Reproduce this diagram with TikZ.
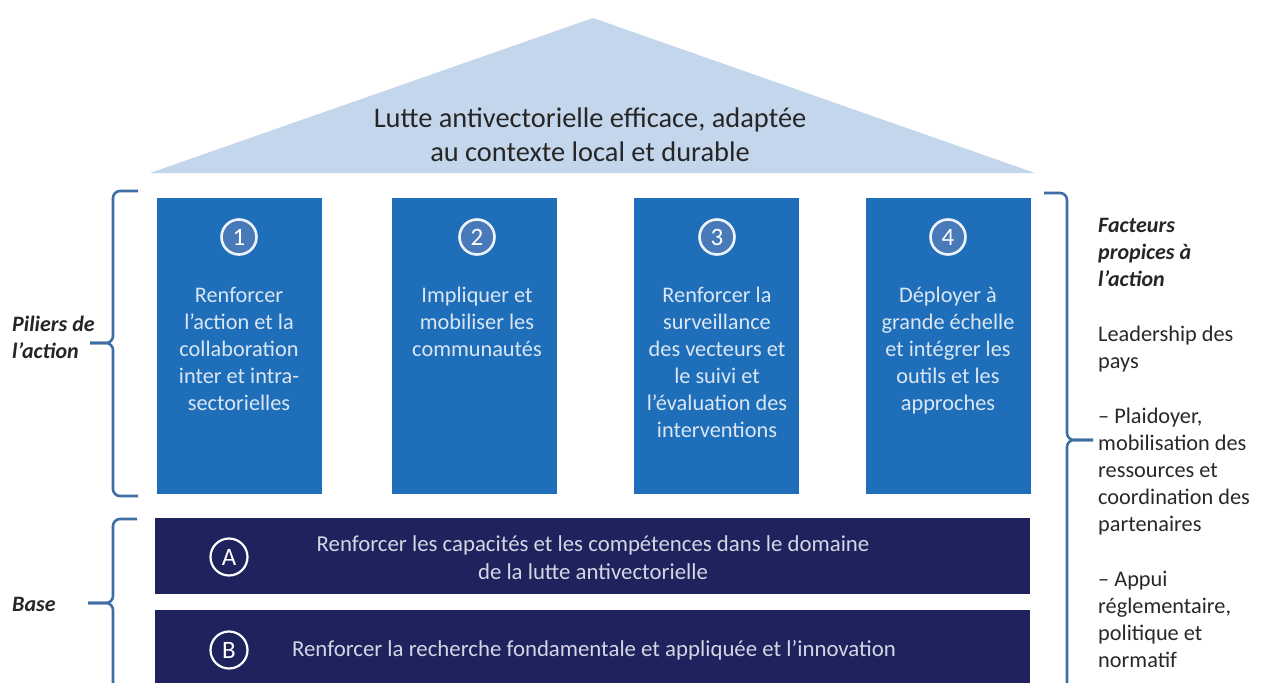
\documentclass[tikz,border=0pt]{standalone}
\usepackage{fontspec}
\setmainfont{Carlito}
\definecolor{roof}{RGB}{196,214,236}
\definecolor{pillar}{RGB}{31,110,186}
\definecolor{pcirc}{RGB}{72,122,186}
\definecolor{navy}{RGB}{30,35,94}
\definecolor{bracec}{RGB}{62,110,165}
\definecolor{ptext}{RGB}{218,230,242}
\definecolor{btext}{RGB}{212,214,228}
\definecolor{dtext}{RGB}{40,40,40}
\begin{document}
\begin{tikzpicture}[x=1pt,y=-1pt,
  pillarbox/.style={fill=pillar,draw=none,minimum width=165pt,minimum height=296pt,anchor=north west,inner sep=0},
  basebox/.style={fill=navy,draw=none,minimum width=875pt,anchor=north west,inner sep=0},
  pnum/.style={circle,draw=white!92!pillar,line width=2.6pt,fill=pcirc,minimum size=35pt,inner sep=0,text=white,font=\fontsize{25}{27}\selectfont},
  bnum/.style={circle,draw=white,line width=2.2pt,fill=navy,minimum size=37pt,inner sep=0,text=white,font=\fontsize{25}{27}\selectfont},
  ptxt/.style={anchor=north,inner sep=0,align=center,text=ptext,font=\fontsize{22.3}{27}\selectfont},
  btxt/.style={inner sep=0,align=center,text=btext,font=\fontsize{22.8}{28}\selectfont},
  rtxt/.style={anchor=north west,inner sep=0,align=left,text=dtext,font=\fontsize{22.3}{27}\selectfont},
  ltxt/.style={anchor=west,inner sep=0,align=left,text=black!85,font=\fontsize{22}{27}\selectfont\bfseries\itshape},
  bracepath/.style={draw=bracec,line width=2.6pt,rounded corners=7pt}
]
\useasboundingbox (0,0) rectangle (1270,683);
\fill[white] (0,0) rectangle (1270,683);

% roof
\coordinate (rl) at (150,173);
\coordinate (ra) at (593,18);
\coordinate (rr) at (1035,173);
\fill[roof] (rl) -- (ra) -- (rr) -- cycle;
\node[inner sep=0,align=center,text=black!85,font=\fontsize{28.4}{34}\selectfont] (roofT) at (590,135)
  {Lutte antivectorielle efficace, adaptée\\au contexte local et durable};

% pillars
\node[pillarbox] (p1) at (157,198) {};
\node[pillarbox] (p2) at (392,198) {};
\node[pillarbox] (p3) at (634,198) {};
\node[pillarbox] (p4) at (866,198) {};

\node[pnum] (n1) at (239,237) {1};
\node[pnum] (n2) at (477,237) {2};
\node[pnum] (n3) at (717,237) {3};
\node[pnum] (n4) at (948,237) {4};

\node[ptxt] (t1) at (239,287) {Renforcer\\l’action et la\\collaboration\\inter et intra-\\sectorielles};
\node[ptxt] (t2) at (477,287) {Impliquer et\\mobiliser les\\communautés};
\node[ptxt] (t3) at (717,287) {Renforcer la\\surveillance\\des vecteurs et\\le suivi et\\l’évaluation des\\interventions};
\node[ptxt] (t4) at (948,287) {Déployer à\\grande échelle\\et intégrer les\\outils et les\\approches};

% base
\node[basebox,minimum height=76pt] (bA) at (155,518) {};
\node[basebox,minimum height=80pt] (bB) at (155,610) {};
\node[bnum] (cA) at (229,557) {A};
\node[bnum] (cB) at (229,650) {B};
\node[btxt] (tA) at (593,558) {Renforcer les capacités et les compétences dans le domaine\\de la lutte antivectorielle};
\node[btxt] (tB) at (594,650) {Renforcer la recherche fondamentale et appliquée et l’innovation};

% braces
\coordinate (lb1t) at (138,191);
\coordinate (lb1b) at (138,496);
\coordinate (lb1m) at (113,343);
\coordinate (lb1tip) at (90,343);
\draw[bracepath] (lb1t) -- (lb1m |- lb1t) -- (lb1m) -- (lb1tip);
\draw[bracepath] (lb1b) -- (lb1m |- lb1b) -- (lb1m) -- (lb1tip);

\coordinate (lb2t) at (137,519);
\coordinate (lb2b) at (113,700);
\coordinate (lb2m) at (113,603);
\coordinate (lb2tip) at (88,603);
\draw[bracepath] (lb2t) -- (lb2m |- lb2t) -- (lb2m) -- (lb2tip);
\draw[bracepath] (lb2b) -- (lb2m) -- (lb2tip);

\coordinate (rbt) at (1044,193);
\coordinate (rbb) at (1067,700);
\coordinate (rbm) at (1067,440);
\coordinate (rbtip) at (1093,440);
\draw[bracepath] (rbt) -- (rbm |- rbt) -- (rbm) -- (rbtip);
\draw[bracepath] (rbb) -- (rbm) -- (rbtip);

% left labels
\node[ltxt] (lp) at (12,337) {Piliers de\\l’action};
\node[ltxt] (lbase) at (12,604) {Base};

% right labels
\node[rtxt,font=\fontsize{22}{27}\selectfont\bfseries\itshape,text=black!85] (rf) at (1098,218) {Facteurs\\propices à\\l’action};
\node[rtxt] (r1) at (1098,326) {Leadership des\\pays};
\node[rtxt] (r2) at (1098,408) {– Plaidoyer,\\mobilisation des\\ressources et\\coordination des\\partenaires};
\node[rtxt] (r3) at (1098,571) {– Appui\\réglementaire,\\politique et\\normatif};
\end{tikzpicture}
\end{document}
